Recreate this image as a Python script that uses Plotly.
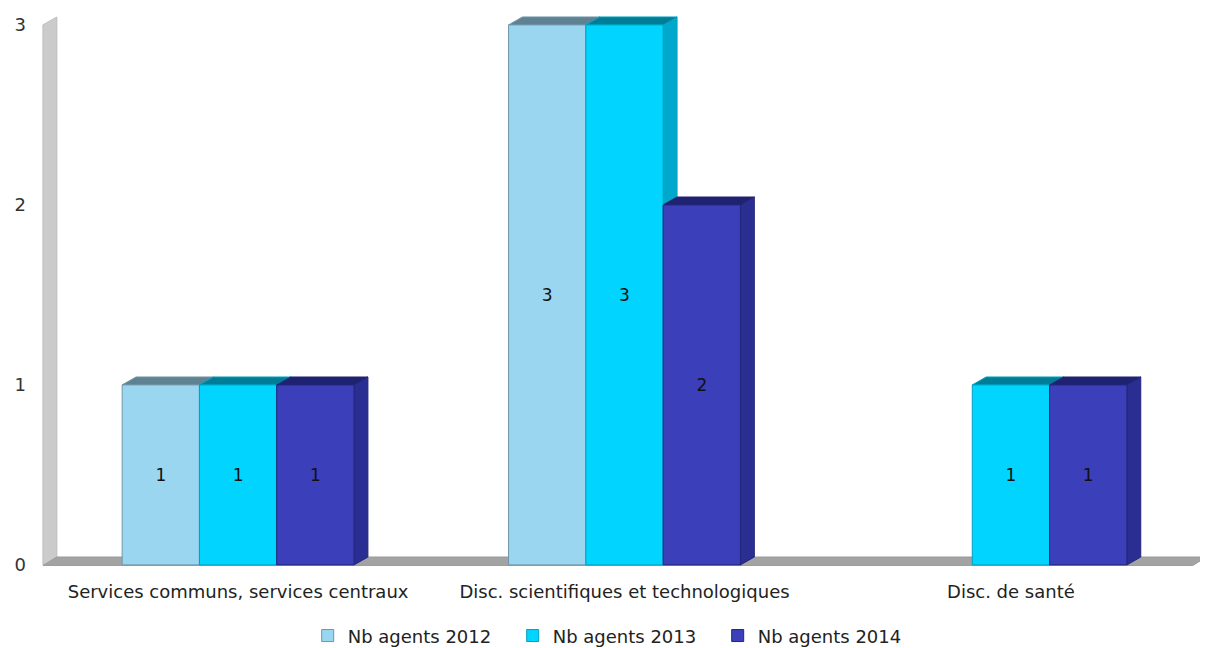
import plotly.graph_objects as go

categories = ["Services communs, services centraux",
              "Disc. scientifiques et technologiques",
              "Disc. de santé"]
series_names = ["Nb agents 2012", "Nb agents 2013", "Nb agents 2014"]
vals_2012 = [1, 3, None]
vals_2013 = [1, 3, 1]
vals_2014 = [1, 2, 1]
y_ticks = [0, 1, 2, 3]

front_colors = ["#9ad6f0", "#00d4ff", "#3b3fb9"]
edge_colors = ["#6f95a8", "#00a0c0", "#23267a"]
side_colors = ["#7aaec6", "#00a8cc", "#2a2e92"]
top_colors = ["#5f8292", "#007d96", "#1f2270"]

FONT = "DejaVu Sans"
all_vals = [vals_2012, vals_2013, vals_2014]

xs = list(range(len(categories)))
bar_w = 0.2
offsets = [-bar_w, 0.0, bar_w]
dx = 0.036   # depth in x data units
dy = 0.044   # depth in y data units
x_lo, x_hi = -0.51, 2.51
y_top = 3.0

fig = go.Figure()
shapes = []

# left wall and floor
wx = -0.505
shapes.append(dict(type="path", xref="x", yref="y", layer="below",
                   path=f"M{wx},0 L{wx+dx},{dy} L{wx+dx},{y_top+dy} L{wx},{y_top} Z",
                   fillcolor="#cbcbcb", line=dict(color="#bdbdbd", width=1)))
fx1 = 2.47
shapes.append(dict(type="path", xref="x", yref="y", layer="below",
                   path=f"M{wx},-0.004 L{fx1},-0.004 L{fx1+dx},{dy} L{wx+dx},{dy} Z",
                   fillcolor="#a3a3a3", line=dict(color="#9a9a9a", width=1)))

# 3D side and top faces computed from the data
for si, vals in enumerate(all_vals):
    for ci, v in enumerate(vals):
        if v is None:
            continue
        x0 = xs[ci] + offsets[si] - bar_w / 2
        x1 = x0 + bar_w
        shapes.append(dict(type="path", xref="x", yref="y", layer="below",
                           path=f"M{x1},0 L{x1+dx},{dy} L{x1+dx},{v+dy} L{x1},{v} Z",
                           fillcolor=side_colors[si], line=dict(color=edge_colors[si], width=1)))
        shapes.append(dict(type="path", xref="x", yref="y", layer="below",
                           path=f"M{x0},{v} L{x0+dx},{v+dy} L{x1+dx},{v+dy} L{x1},{v} Z",
                           fillcolor=top_colors[si], line=dict(color=edge_colors[si], width=1)))

for si, vals in enumerate(all_vals):
    fig.add_trace(go.Bar(
        x=xs, y=vals, name=series_names[si],
        marker=dict(color=front_colors[si], line=dict(color=edge_colors[si], width=1)),
        text=[str(v) if v is not None else "" for v in vals],
        textposition="inside", insidetextanchor="middle",
        insidetextfont=dict(family="DejaVu Sans", size=17, color="#111111"),
        textangle=0, hoverinfo="skip",
    ))

fig.update_layout(
    width=1200, height=640,
    margin=dict(l=33, r=0, t=7, b=82),
    paper_bgcolor="white", plot_bgcolor="rgba(0,0,0,0)",
    barmode="group", bargap=0.4, bargroupgap=0,
    shapes=shapes,
    font=dict(family=FONT, size=18, color="#222222"),
    showlegend=True,
    legend=dict(orientation="h", x=0.506, xanchor="center", xref="container",
                y=0.019, yanchor="middle", yref="container",
                font=dict(family=FONT, size=18, color="#222222"),
                traceorder="normal", itemclick=False, itemwidth=30,
                entrywidth=160, entrywidthmode="pixels"),
    uniformtext=dict(mode=False),
)
fig.update_xaxes(range=[x_lo, x_hi], tickvals=xs, ticktext=categories,
                 showgrid=False, zeroline=False, showline=False, ticks="",
                 automargin=False, ticklabelstandoff=13,
                 tickfont=dict(family=FONT, size=18, color="#222222"))
fig.update_yaxes(range=[-0.006, 3.055], tickvals=y_ticks, ticktext=[str(t) for t in y_ticks],
                 showgrid=False, zeroline=False, showline=False, ticks="",
                 automargin=False, ticklabelstandoff=14,
                 tickfont=dict(family=FONT, size=18, color="#333333"))

fig.write_html("out.html")
